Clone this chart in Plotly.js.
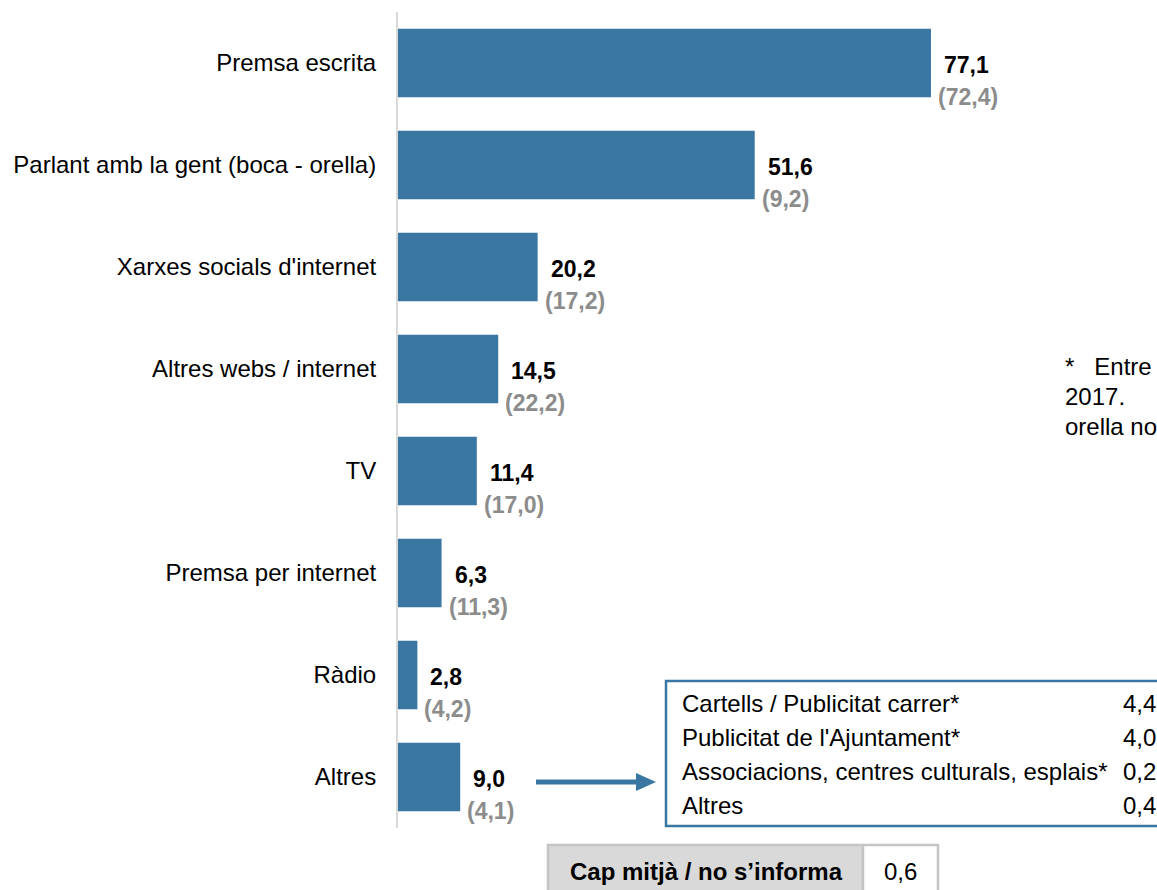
<!DOCTYPE html>
<html>
<head>
<meta charset="utf-8">
<script src="https://cdn.plot.ly/plotly-3.0.1.min.js"></script>
<style>html,body{margin:0;padding:0;background:#fff;overflow:hidden}#chart{width:1157px;height:890px}</style>
</head>
<body>
<div id="chart"></div>
<script>
// ---- data ----
const categories = ["Premsa escrita", "Parlant amb la gent (boca - orella)", "Xarxes socials d'internet",
  "Altres webs / internet", "TV", "Premsa per internet", "Ràdio", "Altres"];
const values2019 = [77.1, 51.6, 20.2, 14.5, 11.4, 6.3, 2.8, 9.0];
const valuesPrev = [72.4, 9.2, 17.2, 22.2, 17.0, 11.3, 4.2, 4.1];
const otherItems = ["Cartells / Publicitat carrer*", "Publicitat de l'Ajuntament*", "Associacions, centres culturals, esplais*", "Altres"];
const otherValues = [4.4, 4.0, 0.2, 0.4];
const noAnswerLabel = "Cap mitjà / no s’informa";
const noAnswerValue = 0.6;
const noteLines = ["*\u00A0\u00A0\u00A0Entre", "2017.", "orella no"];

// ---- helpers ----
const fmt = v => v.toFixed(1).replace('.', ',');
const W = 1157, H = 890, L = 398, R = 0, T = 12, B = 62;
const PW = W - L - R, PH = H - T - B;
const px = x => (x - L) / PW;
const py = y => (H - B - y) / PH;
const BLUE = '#3976a1';
const FONT = 'Liberation Sans, Arial, sans-serif';
const FS = 24;
const FSV = 23;

const trace = {
  type: 'bar', orientation: 'h',
  y: categories, x: values2019,
  marker: {color: BLUE},
  width: 0.67,
  hoverinfo: 'skip'
};

const annotations = [];
categories.forEach((c, i) => {
  annotations.push({x: values2019[i], y: c, xref: 'x', yref: 'y', text: '<b>' + fmt(values2019[i]) + '</b>',
    showarrow: false, xanchor: 'left', yanchor: 'middle', xshift: 11, yshift: -2,
    font: {family: FONT, size: FSV, color: '#000'}});
  annotations.push({x: values2019[i], y: c, xref: 'x', yref: 'y', text: '<b>(' + fmt(valuesPrev[i]) + ')</b>',
    showarrow: false, xanchor: 'left', yanchor: 'middle', xshift: 5, yshift: -34,
    font: {family: FONT, size: FSV, color: '#8c8c8c'}});
});

const rowY = [703, 737, 771, 805];
otherItems.forEach((t, i) => {
  annotations.push({x: px(680), y: py(rowY[i]), xref: 'paper', yref: 'paper', text: t, showarrow: false,
    xanchor: 'left', yanchor: 'middle', font: {family: FONT, size: FS, color: '#000'}});
  annotations.push({x: px(1121), y: py(rowY[i]), xref: 'paper', yref: 'paper', text: fmt(otherValues[i]), showarrow: false,
    xanchor: 'left', yanchor: 'middle', font: {family: FONT, size: FS, color: '#000'}});
});

annotations.push({x: px(706), y: py(871), xref: 'paper', yref: 'paper', text: '<b>' + noAnswerLabel + '</b>', showarrow: false,
  xanchor: 'center', yanchor: 'middle', font: {family: FONT, size: FS, color: '#000'}});
annotations.push({x: px(900), y: py(871), xref: 'paper', yref: 'paper', text: fmt(noAnswerValue), showarrow: false,
  xanchor: 'center', yanchor: 'middle', font: {family: FONT, size: FS, color: '#000'}});

const noteY = [366, 396, 426];
noteLines.forEach((t, i) => {
  annotations.push({x: px(1063), y: py(noteY[i]), xref: 'paper', yref: 'paper', text: t, showarrow: false,
    xanchor: 'left', yanchor: 'middle', font: {family: FONT, size: FS, color: '#000'}});
});

const shapes = [
  // inset box
  {type: 'rect', xref: 'paper', yref: 'paper', x0: px(666), x1: px(1175), y0: py(826), y1: py(681),
   line: {color: BLUE, width: 2.5}, fillcolor: 'rgba(0,0,0,0)'},
  // arrow
  {type: 'line', xref: 'paper', yref: 'paper', x0: px(536), x1: px(640), y0: py(782), y1: py(782),
   line: {color: BLUE, width: 5}},
  {type: 'path', xref: 'paper', yref: 'paper',
   path: `M ${px(636)} ${py(773)} L ${px(656)} ${py(782)} L ${px(636)} ${py(791)} Z`,
   fillcolor: BLUE, line: {width: 0}},
  // bottom box
  {type: 'rect', xref: 'paper', yref: 'paper', x0: px(548), x1: px(863), y0: py(905), y1: py(845),
   line: {color: '#c4c4c4', width: 2.5}, fillcolor: '#d9d9d9'},
  {type: 'rect', xref: 'paper', yref: 'paper', x0: px(863), x1: px(938), y0: py(905), y1: py(845),
   line: {color: '#c4c4c4', width: 2.5}, fillcolor: '#ffffff'}
];

const layout = {
  width: W, height: H,
  margin: {l: L, r: R, t: T, b: B, pad: 0},
  paper_bgcolor: '#fff', plot_bgcolor: '#fff',
  showlegend: false,
  bargap: 0.33,
  xaxis: {range: [0, 109.8], visible: false, fixedrange: true},
  yaxis: {type: 'category', range: [7.5, -0.5], showline: true, linecolor: '#d9d9d9', linewidth: 2,
    showgrid: false, zeroline: false, ticks: '', ticklabelstandoff: 15,
    tickfont: {family: FONT, size: FS, color: '#000'}, fixedrange: true},
  annotations: annotations,
  shapes: shapes,
  font: {family: FONT}
};

Plotly.newPlot('chart', [trace], layout, {displayModeBar: false, staticPlot: true});
</script>
</body>
</html>
